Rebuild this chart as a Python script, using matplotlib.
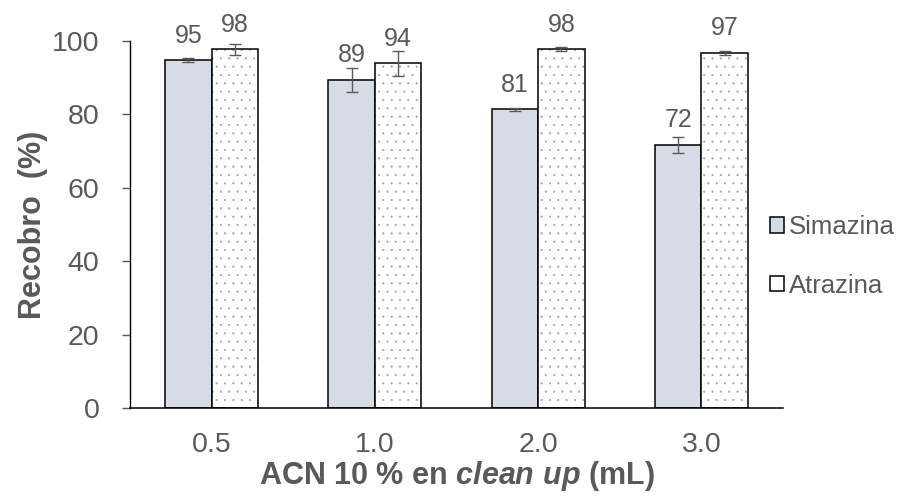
import numpy as np
import matplotlib.pyplot as plt
from matplotlib.patches import Patch

plt.rcParams['font.family'] = ['Liberation Sans', 'DejaVu Sans']
plt.rcParams['mathtext.fontset'] = 'custom'
plt.rcParams['mathtext.it'] = 'Liberation Sans:italic:bold'
plt.rcParams['hatch.linewidth'] = 0.3

volumes = ['0.5', '1.0', '2.0', '3.0']
simazina = [94.8, 89.4, 81.4, 71.7]
simazina_err = [0.6, 3.3, 0.4, 2.1]
atrazina = [97.7, 93.9, 97.8, 96.8]
atrazina_err = [1.5, 3.5, 0.6, 0.6]

gray = '#595959'
sim_color = '#D6DCE5'

fig = plt.figure(figsize=(9.02, 4.98), dpi=100)
ax = fig.add_axes([0.1441, 0.1807, 0.724, 0.737])

x = np.arange(len(volumes))
w = 0.285

sim_bars = ax.bar(x - w/2, simazina, w, color=sim_color, edgecolor='black',
                  linewidth=1.1, zorder=2)
# dotted fill in gray first, then the black outline on top
ax.bar(x + w/2, atrazina, w, color='white', edgecolor='#a0a0a0', hatch='..',
       linewidth=0, zorder=2)
atr_bars = ax.bar(x + w/2, atrazina, w, fill=False, edgecolor='black',
                  linewidth=1.1, zorder=3)

ax.errorbar(x - w/2, simazina, yerr=simazina_err, fmt='none', ecolor=gray,
            elinewidth=1, capsize=4, capthick=1, zorder=4)
ax.errorbar(x + w/2, atrazina, yerr=atrazina_err, fmt='none', ecolor=gray,
            elinewidth=1, capsize=4, capthick=1, zorder=4)

ax.bar_label(sim_bars, fmt='%.0f', padding=9, fontsize=18, color=gray)
ax.bar_label(atr_bars, fmt='%.0f', padding=9, fontsize=18, color=gray)

ax.set_xlim(-0.5, 3.5)
ax.set_ylim(0, 100)
ax.set_yticks(range(0, 101, 20))
ax.set_xticks(x)
ax.set_xticklabels(volumes)

for side in ['top', 'right']:
    ax.spines[side].set_visible(False)
ax.spines['left'].set_linewidth(1)
ax.spines['bottom'].set_linewidth(1.1)

ax.tick_params(axis='y', length=6, width=1, color=gray, pad=16,
               labelsize=20.5, labelcolor=gray)
ax.tick_params(axis='x', length=0, pad=17, labelsize=20.5, labelcolor=gray)

ax.set_ylabel('Recobro  (%)', fontsize=22, fontweight='bold', color=gray,
              labelpad=3)
ax.set_xlabel('ACN 10 % en $\\mathit{clean\\ up}$ (mL)', fontsize=22,
              fontweight='bold', color=gray, labelpad=1)

ax.legend(handles=[sim_bars, Patch(facecolor='white', edgecolor='black', linewidth=1.1)],
          labels=['Simazina', 'Atrazina'], loc='center left',
          bbox_to_anchor=(0.8537, 0.485), bbox_transform=fig.transFigure,
          frameon=False, fontsize=18.5, labelcolor=gray, handlelength=0.55,
          handleheight=0.55, handletextpad=0.2, labelspacing=1.35,
          borderpad=0, borderaxespad=0)

fig.savefig('out.png', dpi=100)
